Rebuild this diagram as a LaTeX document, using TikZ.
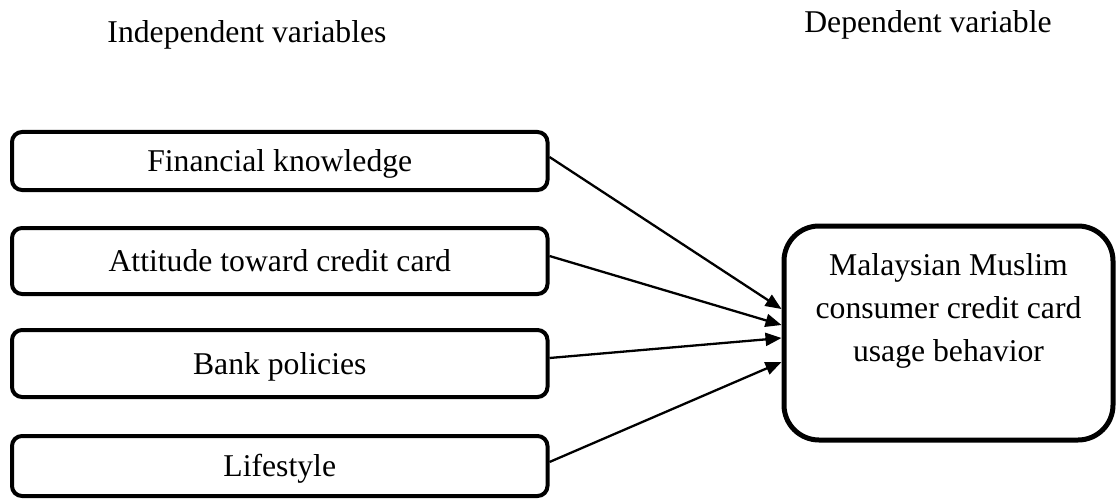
\documentclass[tikz,border=0pt]{standalone}
\usepackage{fontspec}
\setmainfont{Liberation Serif}
\usetikzlibrary{arrows.meta}
\begin{document}
\begin{tikzpicture}[x=1pt,y=-1pt,
  every node/.style={font=\fontsize{31.7}{43}\selectfont, inner sep=0pt},
  ivbox/.style={draw, line width=4pt, rounded corners=10pt, minimum width=535.5pt, text height=21.7pt, text depth=0pt},
  dvbox/.style={draw, line width=5pt, rounded corners=35pt, minimum width=329pt, minimum height=214pt},
  link/.style={line width=2.3pt, -{Triangle[length=16pt,width=13pt]}},
  header/.style={anchor=base}]
\useasboundingbox (0,0) rectangle (1116,500);
\node[header] (hiv) at (247,43) {Independent variables};
\node[header] (hdv) at (928,33) {Dependent variable};
\node[ivbox, minimum height=58pt] (b1) at (279.75,161) {Financial knowledge};
\node[ivbox, minimum height=66pt] (b2) at (279.75,261) {Attitude toward credit card};
\node[ivbox, minimum height=67pt] (b3) at (279.75,363.5) {Bank policies};
\node[ivbox, minimum height=60pt] (b4) at (279.75,466) {Lifestyle};
\node[dvbox] (dv) at (948.5,333) {};
\node[align=center] (dvt) at (948.5,310.6) {Malaysian Muslim\\consumer credit card\\usage behavior};
\draw[link] ([yshift=4pt]b1.east) -- ([yshift=24pt]dv.west);
\draw[link] ([yshift=5pt]b2.east) -- ([yshift=8pt]dv.west);
\draw[link] ([yshift=5.5pt]b3.east) -- ([yshift=-5pt]dv.west);
\draw[link] ([yshift=4pt]b4.east) -- ([yshift=-29pt]dv.west);
\end{tikzpicture}
\end{document}
